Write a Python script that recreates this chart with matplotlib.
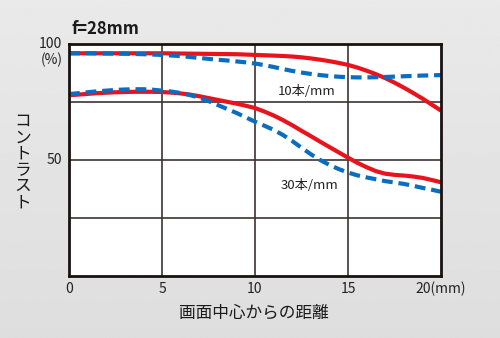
import numpy as np
import matplotlib
matplotlib.use("Agg")
import matplotlib.pyplot as plt

plt.rcParams['font.family'] = ['Noto Sans CJK JP', 'DejaVu Sans']

# distance from image centre (mm), every 0.5 mm
distance = [i * 0.5 for i in range(41)]

# contrast (%) at 10 and 30 lines per mm (solid red / dashed blue)
red_10 = [96.0, 96.0, 96.0, 96.0, 96.0, 96.0, 96.0, 96.0, 96.0, 96.0,
          96.0, 95.95, 95.9, 95.85, 95.8, 95.75, 95.7, 95.65, 95.6, 95.45,
          95.3, 95.15, 95.0, 94.85, 94.6, 94.25, 93.8, 93.25, 92.6, 91.85,
          91.0, 89.85, 88.5, 87.0, 85.3, 83.35, 81.2, 78.9, 76.5, 73.9, 71.3]
blue_10 = [96.0, 96.0, 96.0, 95.95, 95.9, 95.85, 95.8, 95.7, 95.6, 95.45,
           95.3, 95.05, 94.8, 94.4, 94.0, 93.6, 93.2, 92.9, 92.5, 92.1,
           91.6, 90.9, 90.1, 89.2, 88.4, 87.7, 87.1, 86.6, 86.2, 85.9,
           85.7, 85.6, 85.6, 85.7, 85.8, 85.95, 86.1, 86.25, 86.4, 86.5, 86.6]
red_30 = [77.9, 78.2, 78.5, 78.8, 79.0, 79.2, 79.3, 79.4, 79.4, 79.4,
          79.3, 79.05, 78.7, 78.2, 77.5, 76.7, 75.9, 75.1, 74.3, 73.4,
          72.4, 70.9, 69.2, 67.2, 65.0, 62.6, 60.3, 57.9, 55.6, 53.3,
          51.0, 48.8, 46.9, 45.2, 44.1, 43.6, 43.3, 42.9, 42.3, 41.4, 40.4]
blue_30 = [78.4, 78.8, 79.2, 79.6, 79.9, 80.2, 80.4, 80.5, 80.5, 80.3,
           79.9, 79.5, 78.9, 78.0, 76.9, 75.4, 73.7, 72.0, 70.3, 68.4,
           66.5, 64.8, 63.0, 60.8, 58.2, 55.3, 52.5, 50.0, 47.9, 46.1,
           44.6, 43.4, 42.5, 41.7, 40.9, 40.3, 39.7, 38.9, 38.0, 37.2, 36.3]

x_ticks = [0, 5, 10, 15, 20]
x_tick_labels = ["0", "5", "10", "15", "20(mm)"]
y_grid = [25, 50, 75]

RED = "#e8131d"
BLUE = "#0b6dbf"
GRID = "#3d3434"

fig = plt.figure(figsize=(5.0, 3.38), dpi=100)

# soft grey backdrop
bg = fig.add_axes([0, 0, 1, 1], zorder=-10)
grad = np.linspace(0.915, 0.87, 256).reshape(-1, 1)
bg.imshow(np.repeat(grad, 2, axis=1), cmap="gray", vmin=0, vmax=1,
          aspect="auto", extent=[0, 1, 0, 1], origin="upper")
bg.set_axis_off()

ax = fig.add_axes([0.138, 0.1834, 0.744, 0.6864])
ax.set_facecolor("white")
ax.set_xlim(0, 20)
ax.set_ylim(0, 100)

for xv in x_ticks[1:-1]:
    ax.axvline(xv, color=GRID, lw=1.2, zorder=1)
for yv in y_grid:
    ax.axhline(yv, color=GRID, lw=1.2, zorder=1)

ax.plot(distance, red_10, color=RED, lw=3.0, solid_capstyle="butt",
        solid_joinstyle="round", zorder=3)
ax.plot(distance, red_30, color=RED, lw=3.0, solid_capstyle="butt",
        solid_joinstyle="round", zorder=3)
ax.plot(distance, blue_10, color=BLUE, lw=3.0, dashes=(2.6, 1.4), zorder=4)
ax.plot(distance, blue_30, color=BLUE, lw=3.0, dashes=(2.6, 1.4), zorder=4)

for s in ax.spines.values():
    s.set_linewidth(2.0)
    s.set_color("#1a1212")
    s.set_zorder(5)

ax.set_xticks(x_ticks)
ax.set_xticklabels(x_tick_labels, fontsize=10, color="#222222")
ax.set_yticks([])
ax.tick_params(axis="x", length=0, pad=4)

ax.text(-0.35, 100, "100", ha="right", va="center", fontsize=10, color="#222222")
ax.text(-0.35, 93.3, "(%)", ha="right", va="center", fontsize=10, color="#222222")
ax.text(-0.35, 50, "50", ha="right", va="center", fontsize=10, color="#222222")

ax.text(12.8, 79.5, "10本/mm", ha="center", va="center", fontsize=9.5, color="#222222")
ax.text(12.95, 39.2, "30本/mm", ha="center", va="center", fontsize=9.5, color="#222222")

fig.text(0.144, 0.915, "f=28mm", ha="left", va="center", fontsize=12,
         fontweight="bold", color="#1a1a1a")
fig.text(0.508, 0.074, "画面中心からの距離", ha="center", va="center",
         fontsize=12, color="#1a1a1a")
fig.text(0.046, 0.52, "\n".join("コントラスト"), ha="center", va="center",
         fontsize=12, color="#1a1a1a", linespacing=0.95)

fig.savefig("out.png", dpi=100)
